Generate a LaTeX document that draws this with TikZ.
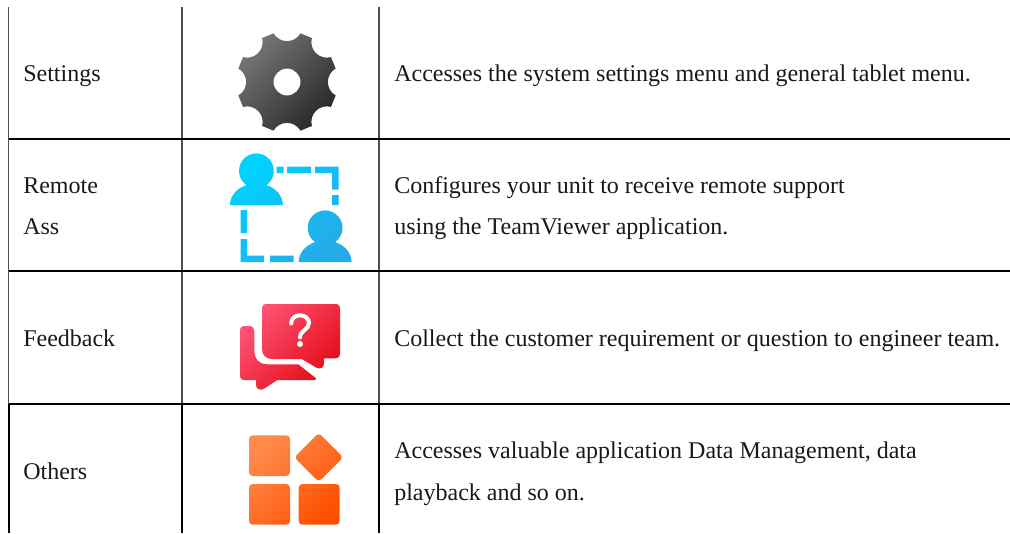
\documentclass[tikz,border=0pt]{standalone}
\usepackage{fontspec}
\setmainfont{Liberation Serif}
\definecolor{gearA}{HTML}{757575}
\definecolor{gearB}{HTML}{2A2A2A}
\definecolor{cyanA}{HTML}{00D2FF}
\definecolor{cyanB}{HTML}{25ABE8}
\definecolor{redA}{HTML}{FF5275}
\definecolor{redB}{HTML}{E20A12}
\definecolor{orgA}{HTML}{FF8A4C}
\definecolor{orgB}{HTML}{FF5000}
\definecolor{thinrule}{HTML}{505050}
\tikzset{
 x=0.75pt,y=-0.75pt,
 thinline/.style={line width=0.8pt,thinrule},
 thickline/.style={line width=1.5pt,black},
 label/.style={anchor=base west,inner sep=0,text=black!90,font=\fontsize{18}{20}\selectfont},
 diag/.style n args={2}{top color=#1,bottom color=#2,shading angle=45},
}
\begin{document}
\begin{tikzpicture}
\useasboundingbox (0,0) rectangle (1010,533);
% rules
\coordinate (a1) at (8.5,7);  \coordinate (a2) at (8.5,404);  \coordinate (a3) at (8.5,533);
\coordinate (b1) at (182,7);  \coordinate (b2) at (182,404);  \coordinate (b3) at (182,533);
\coordinate (c1) at (379,7);  \coordinate (c2) at (379,404);  \coordinate (c3) at (379,533);
\draw[thinline] (a1)--(a2) (b1)--(b2) (c1)--(c2);
\draw[thickline] (a2)--(a3) (b2)--(b3) (c2)--(c3);
\draw[thickline] (8.5,139.3)--(1010,139.3) (8.5,271)--(1010,271) (a2)--(1010,404);
% left labels
\node[label] (s) at (23,81) {Settings};
\node[label] (r1) at (23,193) {Remote};
\node[label] (r2) at (23,234) {Ass};
\node[label] (f) at (23,346) {Feedback};
\node[label] (o) at (23,479) {Others};
% right labels
\node[label] (ds) at (394,81) {Accesses the system settings menu and general tablet menu.};
\node[label] (dr1) at (394,193) {Configures your unit to receive remote support};
\node[label] (dr2) at (394,234) {using the T{}eamViewer application.};
\node[label] (df) at (394,346) {Collect the customer requirement or question to engineer team.};
\node[label] (do1) at (394,458) {Accesses valuable application Data Management, data};
\node[label] (do2) at (394,500) {playback and so on.};
% gear icon
\begin{scope}[shift={(287,82)}]
\path[diag={gearA}{gearB},even odd rule]
 (-15.5:50.5)
 \foreach \a in {0,45,...,315}{
   -- ({\a-15.5}:50.5)
   .. controls ({\a-11}:39) and ({\a+11}:39) .. ({\a+15.5}:50.5)
   -- ({\a+29.5}:50.5)
 } -- cycle
 (0,0) circle[radius=13.5];
\end{scope}
% remote assistance icon
\path[top color=cyanA,middle color=cyanA,bottom color=cyanB,shading angle=45]
 (230,205) arc[start angle=180,end angle=248,x radius=26.3,y radius=21.5]
   arc[start angle=125,end angle=415,radius=17.4]
   arc[start angle=292,end angle=360,x radius=26.3,y radius=21.5] -- cycle
 (298.7,262) arc[start angle=180,end angle=248,x radius=26.3,y radius=21.5]
   arc[start angle=125,end angle=415,radius=17.4]
   arc[start angle=292,end angle=360,x radius=26.3,y radius=21.5] -- cycle
 (276.5,166.5) rectangle (283.5,173)
 (287,166.5) rectangle (311,173)
 (315,166.5) -- (338.5,166.5) -- (338.5,189.5) -- (332,189.5) -- (332,173) -- (315,173) -- cycle
 (332,195) rectangle (338.5,205)
 (240.5,210) rectangle (247,233)
 (240.5,239) -- (247,239) -- (247,255.7) -- (264,255.7) -- (264,262) -- (240.5,262) -- cycle
 (270,255.7) rectangle (293.5,262);
% feedback icon
\path[top color=redA,bottom color=redB,shading angle=45]
 (267,304) -- (335,304)
 .. controls (338.5,304) and (340,305.5) .. (340,309) -- (340,353)
 .. controls (340,356.5) and (338.5,358) .. (335,358.3) -- (324,358.3) -- (324,363)
 .. controls (324,367) and (321,369.5) .. (317,368) -- (301.7,359) -- (272,359)
 .. controls (266,359) and (262,355) .. (262,349) -- (262,309)
 .. controls (262,305.5) and (263.5,304) .. (267,304) -- cycle
 (245,326) -- (249,326)
 .. controls (252.5,326) and (254.3,328) .. (254.3,331) -- (254.3,350)
 .. controls (254.3,359) and (259,364.3) .. (267.3,364.3) -- (298.3,364.3) -- (316,378.3)
 .. controls (316,379.5) and (315.5,380) .. (314,380) -- (277.3,380) -- (264,388.7)
 .. controls (260,391) and (256,389) .. (256,385) -- (256,380) -- (245,380)
 .. controls (241.5,380) and (240,378.5) .. (240,375) -- (240,331)
 .. controls (240,327.5) and (241.5,326) .. (245,326) -- cycle;
\draw[white,line width=3pt,line cap=round]
 (291.2,323.5) .. controls (291.2,318.5) and (295,315.3) .. (300,315.3)
 .. controls (305,315.3) and (309,318.5) .. (309,323)
 .. controls (309,330) and (300,330) .. (300,337.5);
\fill[white] (300,344) circle[radius=3];
% others icon
\path[top color=orgA,bottom color=orgB,shading angle=45,rounded corners=2.8pt]
 (249,435.3) rectangle (290,476)
 (249,484) rectangle (290,524.7)
 (298.7,484) rectangle (339.7,524.7)
 (318.7,432.8) -- (343.2,457.3) -- (318.7,481.8) -- (294.2,457.3) -- cycle;
\end{tikzpicture}
\end{document}
